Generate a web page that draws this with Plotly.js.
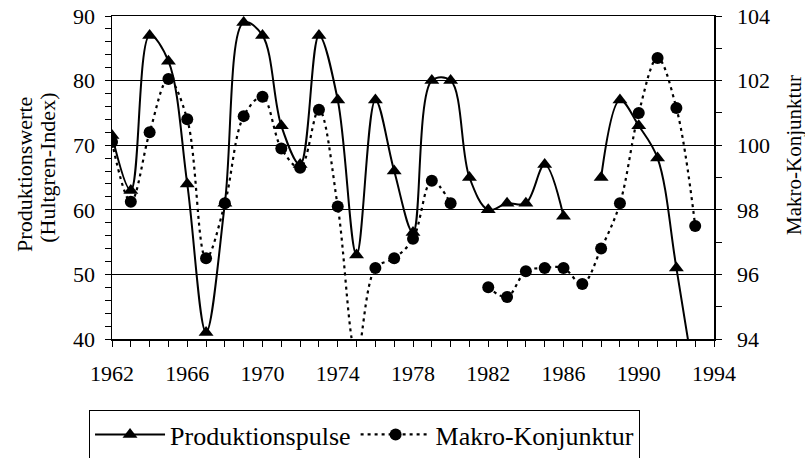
<!DOCTYPE html>
<html>
<head>
<meta charset="utf-8">
<script src="https://cdn.plot.ly/plotly-3.0.1.min.js"></script>
<style>html,body{margin:0;padding:0;background:#fff;}#chart{width:805px;height:458px;}</style>
</head>
<body>
<div id="chart"></div>
<script>
const years = [1962,1963,1964,1965,1966,1967,1968,1969,1970,1971,1972,1973,1974,1975,1976,1977,1978,1979,1980,1981,1982,1983,1984,1985,1986,1987,1988,1989,1990,1991,1992,1993];
const produktionspulse = [71.5,63,87,83,64,41,61,89,87,73,67,87,77,53,77,66,56.5,80,80,65,60,61,61,67,59,null,65,77,73,68,51,33];
const makroKonjunktur = [100.1,98.25,100.4,102.05,100.8,96.5,98.2,100.9,101.5,99.9,99.3,101.1,98.1,93.5,96.2,96.5,97.1,98.9,98.2,null,95.6,95.3,96.1,96.2,96.2,95.7,96.8,98.2,101.0,102.7,101.15,97.5];
const xTicks = [1962,1966,1970,1974,1978,1982,1986,1990,1994];
const names = ["Produktionspulse","Makro-Konjunktur"];
const leftTitleLines = ["Produktionswerte","(Hultgren-Index)"];
const rightTitle = "Makro-Konjunktur";

const fam = "Liberation Serif, Times New Roman, serif";
const font = {family: fam, size: 22, color: "#000"};

const traces = [
  {x: years, y: produktionspulse, name: names[0], type: "scatter", mode: "lines+markers",
   line: {color: "#000", width: 2, shape: "spline", smoothing: 1},
   marker: {symbol: "triangle-up", size: 13, color: "#000"}, yaxis: "y"},
  {x: years, y: makroKonjunktur, name: names[1], type: "scatter", mode: "lines+markers",
   line: {color: "#000", width: 2.2, shape: "spline", smoothing: 1, dash: "3px,4px"},
   marker: {symbol: "circle", size: 12, color: "#000"}, yaxis: "y2"}
];

const layout = {
  width: 805, height: 458,
  margin: {l: 112, r: 91, t: 16, b: 119},
  paper_bgcolor: "#fff", plot_bgcolor: "#fff",
  font: font,
  showlegend: true,
  legend: {orientation: "h", xref: "container", yref: "container", x: 0.1106, xanchor: "left", y: 0.1048, yanchor: "top",
           bordercolor: "#000", borderwidth: 1, font: {family: fam, size: 26, color: "#000"}, itemwidth: 70,
           traceorder: "normal", bgcolor: "#fff"},
  xaxis: {range: [1962, 1994], tickvals: xTicks, ticktext: xTicks.map(String),
          ticks: "outside", ticklen: 6, tickcolor: "#000", tickwidth: 1, ticklabelstandoff: 8,
          minor: {dtick: 1, tick0: 1962, ticks: "outside", ticklen: 6, tickcolor: "#000", showgrid: false},
          showline: true, linecolor: "#000", linewidth: 1.5, mirror: true,
          showgrid: false, zeroline: false, tickfont: font},
  yaxis: {range: [40, 90], dtick: 10, tick0: 40, ticks: "outside", ticklen: 6, tickcolor: "#000", ticklabelstandoff: 5,
          minor: {dtick: 2, ticks: "outside", ticklen: 6, tickcolor: "#000", showgrid: false},
          showline: true, linecolor: "#000", linewidth: 1.5,
          showgrid: true, gridcolor: "#000", gridwidth: 1, zeroline: false, tickfont: font},
  yaxis2: {range: [94, 104], dtick: 2, tick0: 94, overlaying: "y", side: "right",
          ticks: "outside", ticklen: 6, tickcolor: "#000", ticklabelstandoff: 11,
          minor: {dtick: 1, ticks: "outside", ticklen: 6, tickcolor: "#000", showgrid: false},
          showline: true, linecolor: "#000", linewidth: 1.5,
          showgrid: false, zeroline: false, tickfont: font},
  annotations: [
    {text: leftTitleLines[0], xref: "paper", yref: "paper", x: -0.1445, y: 0.508, xanchor: "center", yanchor: "middle",
     textangle: -90, showarrow: false, font: {family: fam, size: 22, color: "#000"}},
    {text: leftTitleLines[1], xref: "paper", yref: "paper", x: -0.1063, y: 0.530, xanchor: "center", yanchor: "middle",
     textangle: -90, showarrow: false, font: {family: fam, size: 22, color: "#000"}},
    {text: rightTitle, xref: "paper", yref: "paper", x: 1.1329, y: 0.57, xanchor: "center", yanchor: "middle",
     textangle: -90, showarrow: false, font: {family: fam, size: 21, color: "#000"}}
  ]
};

Plotly.newPlot("chart", traces, layout, {displayModeBar: false, staticPlot: true});
</script>
</body>
</html>
